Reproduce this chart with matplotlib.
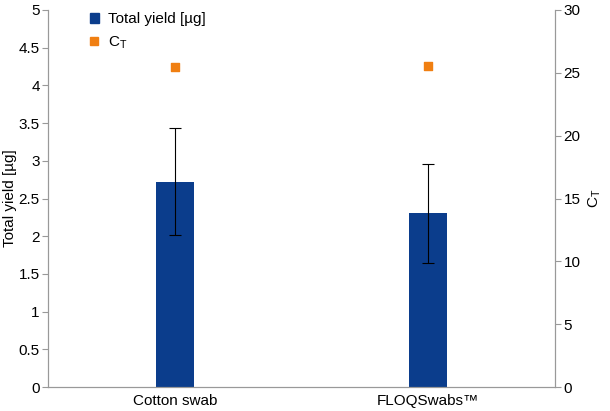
import matplotlib.pyplot as plt
from matplotlib.lines import Line2D
from matplotlib.patches import Patch

plt.rcParams['font.family'] = 'Liberation Sans'

# data
categories = ['Cotton swab', 'FLOQSwabs\u2122']
total_yield = [2.72, 2.31]
err_low = [0.71, 0.66]
err_high = [0.71, 0.65]
ct_values = [25.45, 25.55]

fig = plt.figure(figsize=(6.1, 4.11), dpi=100)
ax = fig.add_axes([0.079, 0.058, 0.831, 0.918])
ax2 = ax.twinx()

x = [0, 1]
ax.bar(x, total_yield, width=0.15, color='#0b3d8c', zorder=2)
ax.errorbar(x, total_yield, yerr=[err_low, err_high], fmt='none',
            ecolor='black', elinewidth=0.8, capsize=4, capthick=0.8, zorder=3)
ax2.scatter(x, ct_values, marker='s', s=36, color='#f07f12', zorder=4)

ax.set_xlim(-0.5, 1.5)
ax.set_ylim(0, 5)
ax2.set_ylim(0, 30)
ax.set_yticks([i * 0.5 for i in range(11)])
ax.set_yticklabels(['0', '0.5', '1', '1.5', '2', '2.5', '3', '3.5', '4', '4.5', '5'])
ax2.set_yticks(range(0, 31, 5))
ax.set_xticks(x)
ax.set_xticklabels(categories)
ax.set_ylabel('Total yield [\u00b5g]', fontsize=11, labelpad=1)
ax2.set_ylabel('C$_\\mathregular{T}$', fontsize=11)

for a in (ax, ax2):
    for s in a.spines.values():
        s.set_color('#999999')
    a.spines['top'].set_visible(False)
    a.tick_params(labelsize=11, color='#999999', length=4, pad=2)
ax.tick_params(axis='x', length=0, pad=5)

handles = [Patch(color='#0b3d8c'),
           Line2D([], [], marker='s', linestyle='none', color='#f07f12', markersize=6)]
ax.legend(handles, ['Total yield [\u00b5g]', 'C$_\\mathregular{T}$'], loc='upper left',
          bbox_to_anchor=(0.055, 1.03), frameon=False, fontsize=11,
          handlelength=0.6, handleheight=0.6, handletextpad=0.6)

fig.savefig('out.png', dpi=100)
